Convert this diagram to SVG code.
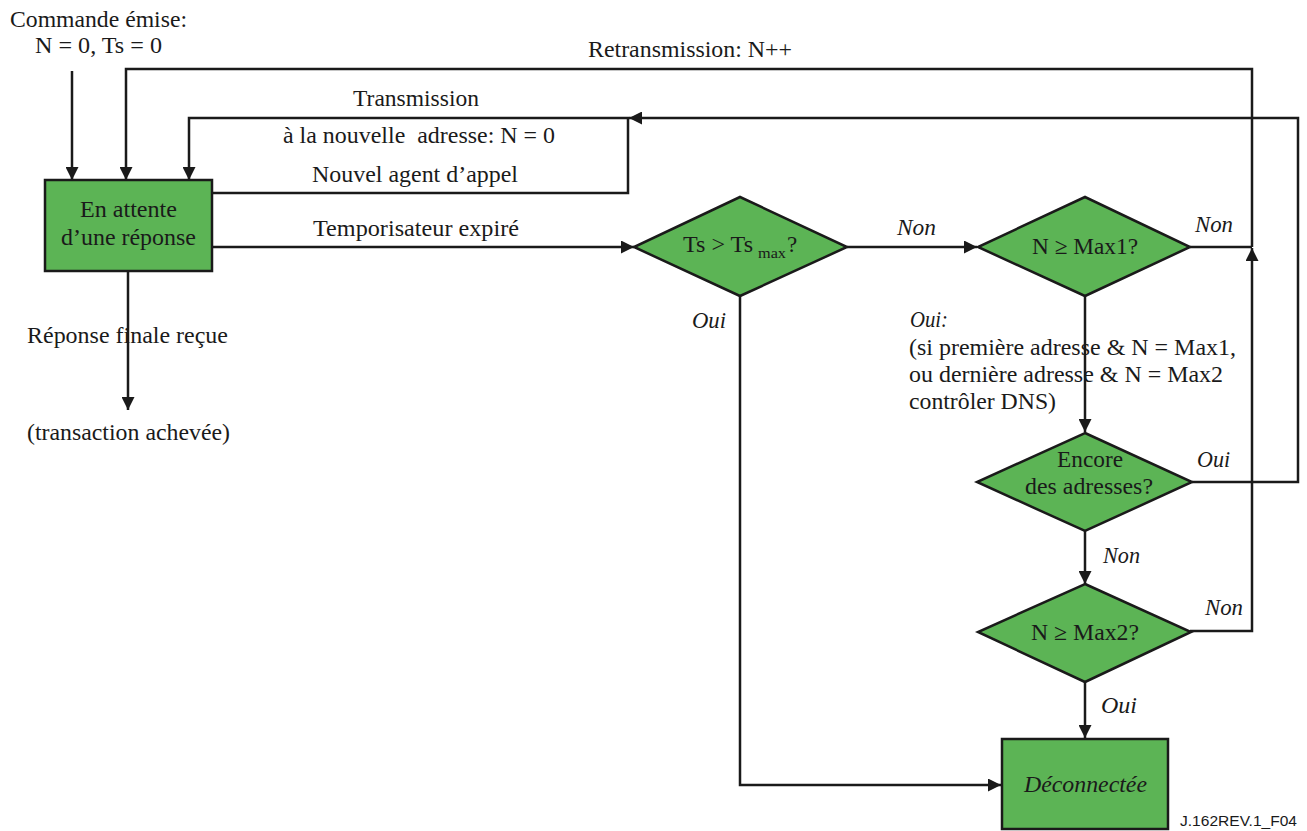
<svg xmlns="http://www.w3.org/2000/svg" width="1307" height="831" viewBox="0 0 1307 831">
  <style>
    .t { font-family: "Liberation Serif", "Times New Roman", serif; font-size: 23px; fill: #1a1a1a; white-space: pre; }
    .i { font-style: italic; }
    .sub { font-size: 15px; }
    .ref { font-family: "Liberation Sans", Arial, sans-serif; font-size: 14px; fill: #1a1a1a; }
    .shape { fill: #5cb455; stroke: #1a1a1a; stroke-width: 2.5; stroke-linejoin: miter; }
    .wire { fill: none; stroke: #1a1a1a; stroke-width: 2.5; }
    .arr { marker-end: url(#head); }
  </style>
  <defs>
    <marker id="head" markerUnits="userSpaceOnUse" markerWidth="14" markerHeight="13" refX="13" refY="6.5" orient="auto">
      <path d="M0,0 L13,6.5 L0,13 z" fill="#1a1a1a"/>
    </marker>
  </defs>
  <rect width="1307" height="831" fill="#ffffff"/>

  <!-- connectors -->
  <g id="connectors">
    <path class="wire arr" d="M72,71 V180"/>
    <path class="wire arr" d="M1252,247 V69 H126 V180"/>
    <path class="wire" d="M1190,247 H1252"/>
    <path class="wire arr" d="M1190,631 H1252 V248"/>
    <path class="wire arr" d="M212,193 H628 V118 H189 V180"/>
    <path class="wire arr" d="M1192,482 H1298 V118 H629"/>
    <path class="wire arr" d="M212,247 H634"/>
    <path class="wire arr" d="M847,247 H977"/>
    <path class="wire arr" d="M1085,296 V432"/>
    <path class="wire arr" d="M1085,531 V584"/>
    <path class="wire arr" d="M1085,682 V738"/>
    <path class="wire arr" d="M740,296 V785 H1001"/>
    <path class="wire arr" d="M128,271 V410"/>
  </g>

  <!-- connector labels -->
  <g id="labels">
    <text class="t" x="10" y="27" textLength="177" lengthAdjust="spacingAndGlyphs">Commande émise:</text>
    <text class="t" x="35" y="53" textLength="127" lengthAdjust="spacingAndGlyphs">N = 0, Ts = 0</text>
    <text class="t" x="588" y="57" textLength="204" lengthAdjust="spacingAndGlyphs">Retransmission: N++</text>
    <text class="t" x="353" y="106" textLength="126" lengthAdjust="spacingAndGlyphs">Transmission</text>
    <text class="t" x="283" y="143" textLength="272" lengthAdjust="spacingAndGlyphs">à la nouvelle  adresse: N = 0</text>
    <text class="t" x="312" y="182" textLength="206" lengthAdjust="spacingAndGlyphs">Nouvel agent d’appel</text>
    <text class="t" x="313" y="236" textLength="206" lengthAdjust="spacingAndGlyphs">Temporisateur expiré</text>
    <text class="t" x="27" y="343" textLength="201" lengthAdjust="spacingAndGlyphs">Réponse finale reçue</text>
    <text class="t" x="27" y="440" textLength="203" lengthAdjust="spacingAndGlyphs">(transaction achevée)</text>
    <text class="t i" x="897" y="235" textLength="39" lengthAdjust="spacingAndGlyphs">Non</text>
    <text class="t i" x="1195" y="232" textLength="38" lengthAdjust="spacingAndGlyphs">Non</text>
    <text class="t i" x="692" y="328" textLength="34" lengthAdjust="spacingAndGlyphs">Oui</text>
    <text class="t i" x="910" y="327" textLength="38" lengthAdjust="spacingAndGlyphs">Oui:</text>
    <text class="t" x="909" y="355" textLength="327" lengthAdjust="spacingAndGlyphs">(si première adresse &amp; N = Max1,</text>
    <text class="t" x="909" y="382" textLength="314" lengthAdjust="spacingAndGlyphs">ou dernière adresse &amp; N = Max2</text>
    <text class="t" x="909" y="409" textLength="147" lengthAdjust="spacingAndGlyphs">contrôler DNS)</text>
    <text class="t i" x="1197" y="467" textLength="33" lengthAdjust="spacingAndGlyphs">Oui</text>
    <text class="t i" x="1103" y="563" textLength="37" lengthAdjust="spacingAndGlyphs">Non</text>
    <text class="t i" x="1205" y="615" textLength="38" lengthAdjust="spacingAndGlyphs">Non</text>
    <text class="t i" x="1101" y="713" textLength="36" lengthAdjust="spacingAndGlyphs">Oui</text>
    <text class="ref" x="1180" y="826" textLength="117" lengthAdjust="spacingAndGlyphs">J.162REV.1_F04</text>
  </g>

  <!-- nodes -->
  <g id="attente">
    <rect class="shape" x="45" y="180" width="167" height="91"/>
    <text class="t" x="80" y="217" textLength="97" lengthAdjust="spacingAndGlyphs">En attente</text>
    <text class="t" x="61" y="245" textLength="135" lengthAdjust="spacingAndGlyphs">d’une réponse</text>
  </g>

  <g id="ts-max">
    <polygon class="shape" points="740,197 847,247 740,296 634,247"/>
    <text class="t" x="683" y="252" textLength="70" lengthAdjust="spacingAndGlyphs">Ts &gt; Ts</text>
    <text class="t sub" x="758" y="258" textLength="28" lengthAdjust="spacingAndGlyphs">max</text>
    <text class="t" x="787" y="252">?</text>
  </g>

  <g id="max1">
    <polygon class="shape" points="1085,197 1190,247 1085,296 978,247"/>
    <text class="t" x="1032" y="254" textLength="106" lengthAdjust="spacingAndGlyphs">N ≥ Max1?</text>
  </g>

  <g id="adresses">
    <polygon class="shape" points="1085,433 1192,482 1085,531 977,482"/>
    <text class="t" x="1057" y="467" textLength="66" lengthAdjust="spacingAndGlyphs">Encore</text>
    <text class="t" x="1025" y="494" textLength="128" lengthAdjust="spacingAndGlyphs">des adresses?</text>
  </g>

  <g id="max2">
    <polygon class="shape" points="1085,584 1191,632 1085,682 978,632"/>
    <text class="t" x="1031" y="640" textLength="108" lengthAdjust="spacingAndGlyphs">N ≥ Max2?</text>
  </g>

  <g id="deconnectee">
    <rect class="shape" x="1002" y="739" width="166" height="90"/>
    <text class="t i" x="1024" y="792" textLength="123" lengthAdjust="spacingAndGlyphs">Déconnectée</text>
  </g>
</svg>
